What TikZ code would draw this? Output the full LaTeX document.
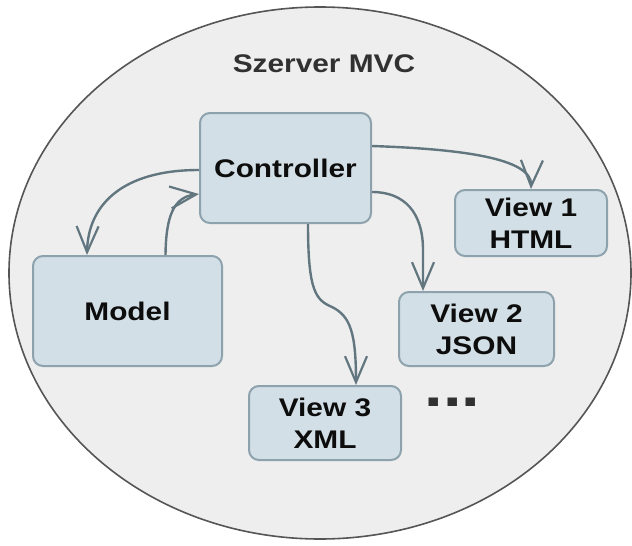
\documentclass[tikz,border=0pt]{standalone}
\usepackage{fontspec}
\setmainfont{Liberation Sans}[FakeStretch=1.17]
\usetikzlibrary{arrows.meta,shapes.geometric}

\definecolor{serverfill}{HTML}{EEEEEE}
\definecolor{serverline}{HTML}{555555}
\definecolor{boxfill}{HTML}{D3DFE6}
\definecolor{boxline}{HTML}{8DA2AD}
\definecolor{flowline}{HTML}{62767F}
\definecolor{labeltext}{HTML}{0D0D0D}

\tikzset{
  mvcbox/.style={draw=boxline, fill=boxfill, line width=2pt, rounded corners=10pt,
    align=center, text=labeltext, inner sep=0pt,
    font=\bfseries\fontsize{25.5}{32}\selectfont},
  flow/.style={draw=flowline, line width=2.4pt,
    -{Straight Barb[length=26pt, width=22pt, line width=2.2pt]}},
}

\begin{document}
\begin{tikzpicture}[x=1pt, y=-1pt]
  \useasboundingbox (0,0) rectangle (632,546);

  % server boundary
  \node[ellipse, draw=serverline, fill=serverfill, line width=1.6pt,
        minimum width=622pt, minimum height=532pt, inner sep=0pt] (server) at (320,273) {};
  \node[text=labeltext!85!white, font=\bfseries\fontsize{25.5}{30}\selectfont] (title) at (324,64) {Szerver MVC};

  % components
  \node[mvcbox, minimum width=171pt, minimum height=110pt] (ctrl)  at (285.5,168) {Controller};
  \node[mvcbox, minimum width=152pt, minimum height=66pt]  (view1) at (531,223)   {View 1\\HTML};
  \node[mvcbox, minimum width=189pt, minimum height=110pt] (model) at (127.5,311) {Model};
  \node[mvcbox, minimum width=155pt, minimum height=74pt]  (view2) at (476.5,329) {View 2\\JSON};
  \node[mvcbox, minimum width=152pt, minimum height=74pt]  (view3) at (325,423)   {View 3\\XML};
  \node[anchor=base, inner sep=0pt, text=labeltext!85!white,
        font=\bfseries\fontsize{57}{57}\selectfont] (more) at (452.5,406) {...};

  % connections
  \draw[flow] ([yshift=22pt]ctrl.east) .. controls (460,149) and (532,158) .. (view1.north);
  \draw[flow] ([yshift=-24pt]ctrl.east) .. controls (404,192) and (423,212) .. (423,250)
              -- ([xshift=-53.5pt]view2.north);
  \draw[flow] ([xshift=22.5pt]ctrl.south) .. controls (308,292) and (316,300) .. (332,307)
              .. controls (350,316) and (356,332) .. ([xshift=31pt]view3.north);
  \draw[flow] ([yshift=-2pt]ctrl.west) .. controls (122,170) and (88,205) .. ([xshift=-40.5pt]model.north);
  \draw[flow] ([xshift=38pt]model.north) .. controls (166,215) and (174,197) .. ([yshift=-26pt]ctrl.west);
\end{tikzpicture}
\end{document}
